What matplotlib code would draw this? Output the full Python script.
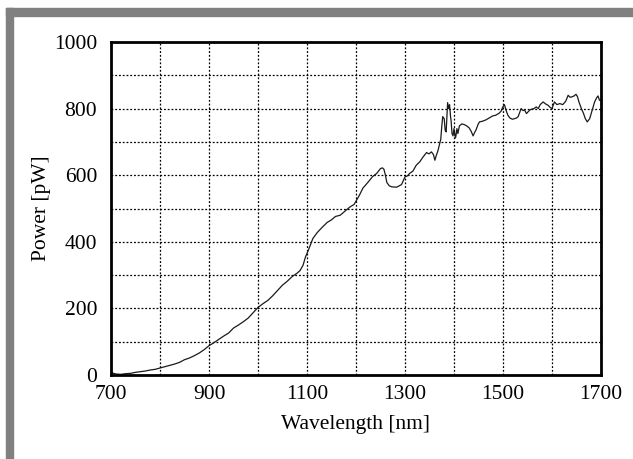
import numpy as np
import matplotlib.pyplot as plt
from matplotlib.patches import Rectangle
from matplotlib.ticker import MultipleLocator

# values
wavelength = [700, 705, 710, 720, 730, 740, 750, 760, 770, 780, 790, 800, 810, 820, 830, 840,
              850, 860, 870, 880, 890, 900, 910, 920, 930, 940, 950, 960, 970, 980, 990,
              1000, 1010, 1020, 1030, 1040, 1050, 1060, 1070, 1080, 1086, 1092, 1097, 1102,
              1112, 1121, 1130, 1141, 1150, 1158, 1168, 1179, 1188, 1196, 1200, 1207, 1214,
              1224, 1234, 1242, 1250, 1254, 1257, 1260, 1263, 1268, 1273, 1283, 1293, 1300,
              1305, 1310, 1316, 1323, 1330, 1337, 1344, 1349, 1354, 1358, 1361, 1364, 1367,
              1370, 1373, 1375, 1377, 1380, 1382, 1384, 1386, 1387, 1389, 1391, 1393, 1394,
              1396, 1398, 1400, 1401, 1403, 1404, 1406, 1408, 1411, 1416, 1421, 1426, 1431,
              1435, 1439, 1442, 1445, 1449, 1452, 1458, 1465, 1472, 1479, 1485, 1492, 1496,
              1500, 1503, 1507, 1510, 1514, 1519, 1524, 1528, 1531, 1534, 1537, 1541, 1544,
              1548, 1551, 1555, 1558, 1563, 1568, 1572, 1576, 1582, 1587, 1592, 1596, 1600,
              1605, 1610, 1616, 1622, 1628, 1633, 1637, 1640, 1645, 1649, 1652, 1655, 1660,
              1664, 1668, 1672, 1677, 1682, 1687, 1691, 1694, 1697, 1700]
power = [8, 5, 3, 2, 4, 5, 8, 10, 12, 15, 17, 21, 25, 29, 33, 38,
         46, 51, 58, 66, 76, 88, 97, 107, 117, 126, 141, 150, 160, 171, 187,
         203, 214, 224, 238, 254, 270, 282, 296, 306, 314, 330, 355, 372,
         410, 428, 442, 458, 466, 476, 480, 494, 505, 512, 522, 540, 561,
         578, 596, 605, 620, 622, 618, 600, 578, 568, 565, 564, 572, 595,
         598, 606, 612, 630, 640, 655, 668, 664, 670, 662, 645, 660, 672,
         690, 708, 745, 776, 770, 735, 730, 790, 818, 800, 812, 775, 765,
         725, 718, 740, 730, 712, 718, 740, 725, 748, 754, 752, 748, 742,
         732, 718, 728, 736, 752, 760, 762, 766, 772, 778, 780, 786, 792,
         806, 812, 792, 780, 772, 768, 770, 772, 776, 788, 800, 794, 796,
         785, 790, 796, 798, 800, 805, 800, 812, 820, 814, 810, 804, 800,
         820, 812, 815, 812, 822, 840, 834, 835, 838, 843, 836, 820, 800,
         787, 770, 760, 770, 795, 820, 832, 838, 825, 825]

x_major = [700, 900, 1100, 1300, 1500, 1700]
y_major = [0, 200, 400, 600, 800, 1000]

plt.rcParams['font.family'] = ['Liberation Serif', 'DejaVu Serif']

fig = plt.figure(figsize=(6.33, 4.59), dpi=100)
ax = fig.add_axes([0.1754, 0.183, 0.774, 0.7255])

ax.plot(wavelength, power, color='#1a1a1a', lw=0.9)

ax.set_xlim(700, 1700)
ax.set_ylim(0, 1000)
ax.set_xticks(x_major)
ax.set_yticks(y_major)
ax.xaxis.set_minor_locator(MultipleLocator(100))
ax.yaxis.set_minor_locator(MultipleLocator(100))
ax.grid(True, which='both', color='black', linestyle=(0, (1.5, 1.5)), lw=0.9)
ax.tick_params(which='both', length=0, labelsize=15.5)
ax.tick_params(axis='x', pad=7)
ax.tick_params(axis='y', pad=10)
for s in ax.spines.values():
    s.set_linewidth(2)
    s.set_zorder(5)

ax.set_xlabel('Wavelength [nm]', fontsize=15.5, labelpad=8)
ax.set_ylabel('Power [pW]', fontsize=15.5, labelpad=2)

# grey frame on top and left of the picture
W, H = 633, 459
fig.patches.append(Rectangle((6 / W, 0), 7 / W, 451 / H, transform=fig.transFigure,
                             color='#808080', zorder=0))
fig.patches.append(Rectangle((6 / W, 443 / H), 627 / W, 8 / H, transform=fig.transFigure,
                             color='#808080', zorder=0))

fig.savefig('out.png', dpi=100)
